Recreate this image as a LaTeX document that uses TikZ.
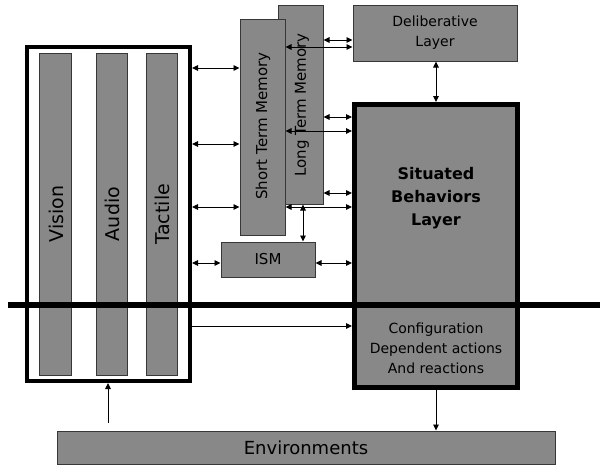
\documentclass[tikz,border=0pt]{standalone}
\usepackage{fontspec}
\setmainfont{DejaVu Sans}
\usetikzlibrary{arrows.meta}
\definecolor{boxgray}{RGB}{136,136,136}
\definecolor{edgegray}{RGB}{55,55,55}
\begin{document}
\begin{tikzpicture}[x=1pt,y=-1pt,
  box/.style={draw=edgegray, fill=boxgray, line width=1pt, inner sep=0pt},
  heavy/.style={draw=black, line width=#1, inner sep=0pt},
  vtext/.style={rotate=90, inner sep=0pt, font=\fontsize{#1}{#1}\selectfont},
  link/.style={line width=0.9pt, draw=black},
  tip/.style={-{Triangle[length=6pt,width=5.5pt]}},
  twoway/.style={{Triangle[length=6pt,width=5.5pt]}-{Triangle[length=6pt,width=5.5pt]}}]
\useasboundingbox (0,0) rectangle (600,466);

% sensor block with its three channels
\node[heavy=4pt, fill=white, minimum width=163pt, minimum height=334pt] (sensors) at (108.5,214) {};
\node[box, minimum width=32pt, minimum height=322pt] (vision) at (55,214) {};
\node[box, minimum width=31pt, minimum height=322pt] (audio) at (111.5,214) {};
\node[box, minimum width=31pt, minimum height=322pt] (tactile) at (161.5,214) {};
\node[vtext=19] (visiontext) at (56,214) {Vision};
\node[vtext=19] (audiotext) at (112,214) {Audio};
\node[vtext=19] (tactiletext) at (162,214) {Tactile};

% memories
\node[box, minimum width=45pt, minimum height=199pt] (ltm) at (300.5,104.5) {};
\node[box, minimum width=45pt, minimum height=216pt] (stm) at (262.5,127) {};
\node[vtext=15] (ltmtext) at (302,105) {Long Term Memory};
\node[vtext=15] (stmtext) at (263,126) {Short Term Memory};
\node[box, minimum width=94pt, minimum height=35pt, font=\fontsize{15}{15}\selectfont] (ism) at (268,259.5) {ISM};

% layers
\node[box, minimum width=164pt, minimum height=56pt, align=center,
      font=\fontsize{14}{20}\selectfont] (delib) at (435,33) {Deliberative\\Layer};
\node[heavy=5pt, fill=boxgray, minimum width=163pt, minimum height=283pt] (sbl) at (436,246) {};
\node[align=center, inner sep=0pt, font=\fontsize{16}{23}\bfseries\selectfont] (sbltext) at (436,198)
  {Situated\\Behaviors\\Layer};
\node[align=center, inner sep=0pt, font=\fontsize{14}{20}\selectfont] (cfgtext) at (436,348)
  {Configuration\\Dependent actions\\And reactions};

% environment
\node[box, minimum width=498pt, minimum height=33pt, font=\fontsize{18}{18}\selectfont] (env) at (306,447.5) {Environments};

% separating bar
\coordinate (barL) at (8,305);
\coordinate (barR) at (600,305);
\draw[line width=6pt] (barL) -- (barR);

% sensors to memories
\draw[link,twoway] (sensors.east |- 0,68) -- (stm.west |- 0,68);
\draw[link,twoway] (sensors.east |- 0,144) -- (stm.west |- 0,144);
\draw[link,twoway] (sensors.east |- 0,207) -- (stm.west |- 0,207);
\draw[link,twoway] (sensors.east |- 0,263) -- (ism.west |- 0,263);
\draw[link,tip] (sensors.east |- 0,326) -- (sbl.west |- 0,326);

% memories to deliberative layer
\draw[link,twoway] (ltm.east |- 0,40) -- (delib.west |- 0,40);
\draw[link,twoway] (stm.east |- 0,47) -- (delib.west |- 0,47);

% memories to situated behaviors layer
\draw[link,twoway] (ltm.east |- 0,117) -- (sbl.west |- 0,117);
\draw[link,twoway] (stm.east |- 0,131) -- (sbl.west |- 0,131);
\draw[link,twoway] (ltm.east |- 0,193) -- (sbl.west |- 0,193);
\draw[link,twoway] (stm.east |- 0,207) -- (sbl.west |- 0,207);
\draw[link,twoway] (ism.east |- 0,263) -- (sbl.west |- 0,263);
\draw[link,twoway] (ltm.south -| 303,0) -- (ism.north -| 303,0);

% vertical links
\draw[link,twoway] (sbl.north |- delib.south) -- (sbl.north);
\draw[link,tip] (sbl.south) -- (sbl.south |- env.north);
\draw[link,tip,shorten <=8pt] (env.north -| 108,0) -- (sensors.south -| 108,0);
\end{tikzpicture}
\end{document}
